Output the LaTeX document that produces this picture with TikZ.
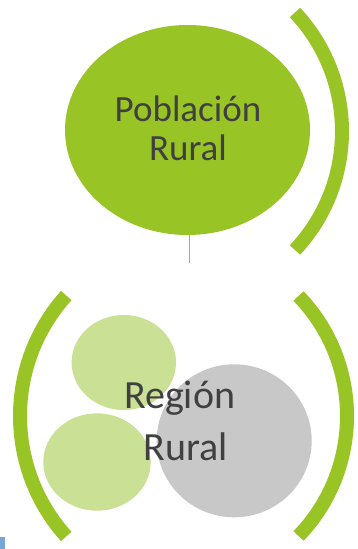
\documentclass[tikz,border=0pt]{standalone}
\usepackage{fontspec}
\setmainfont{Carlito}
\usetikzlibrary{shapes.geometric}
\definecolor{mgreen}{RGB}{153,196,38}
\definecolor{lgreen}{RGB}{202,224,148}
\definecolor{cgray}{RGB}{200,200,200}
\definecolor{txt}{RGB}{64,64,64}
\definecolor{lgray}{RGB}{166,166,166}
\definecolor{edgeblue}{RGB}{120,165,215}
\begin{document}
\begin{tikzpicture}[x=1pt,y=-1pt,
  bracket/.style={draw=mgreen, line width=14pt, line cap=butt},
  blob/.style={ellipse, inner sep=0pt},
  lbl/.style={text=txt, align=center, inner sep=0pt}]
\useasboundingbox (0,0) rectangle (357,549);
\fill[white] (0,0) rectangle (357,549);
% top group
\draw[bracket] (168.5,131.25) ++(-43.2:173.5) arc[start angle=-43.2, end angle=43.2, radius=173.5];
\node[blob, fill=mgreen, minimum width=245pt, minimum height=210pt] (pob) at (187.5,130) {};
\coordinate (lend) at (189.3,262.7);
\draw[lgray, line width=1.5pt] (pob.south -| lend) -- (lend);
\node[lbl, font=\fontsize{37}{38.3}\selectfont, anchor=base] (tpob) at (188,160) {Población\\Rural};
% bottom group
\draw[bracket] (200,416) ++(138:180) arc[start angle=138, end angle=222, radius=180];
\draw[bracket] (174.3,416) ++(-44:172.7) arc[start angle=-44, end angle=44, radius=172.7];
\node[blob, fill=lgreen, minimum width=104.4pt, minimum height=95pt] (c1) at (123.8,362.5) {};
\node[blob, fill=lgreen, minimum width=107.4pt, minimum height=97.4pt] (c2) at (97,462) {};
\node[blob, fill=cgray, minimum width=155pt, minimum height=153pt] (c3) at (234.2,440.8) {};
\node[lbl, font=\fontsize{40}{51.7}\selectfont, anchor=base] (treg) at (179.7,460) {Región\\\hspace*{12.2pt}Rural};
\fill[edgeblue] (0,537) rectangle (5,549);
\end{tikzpicture}
\end{document}
